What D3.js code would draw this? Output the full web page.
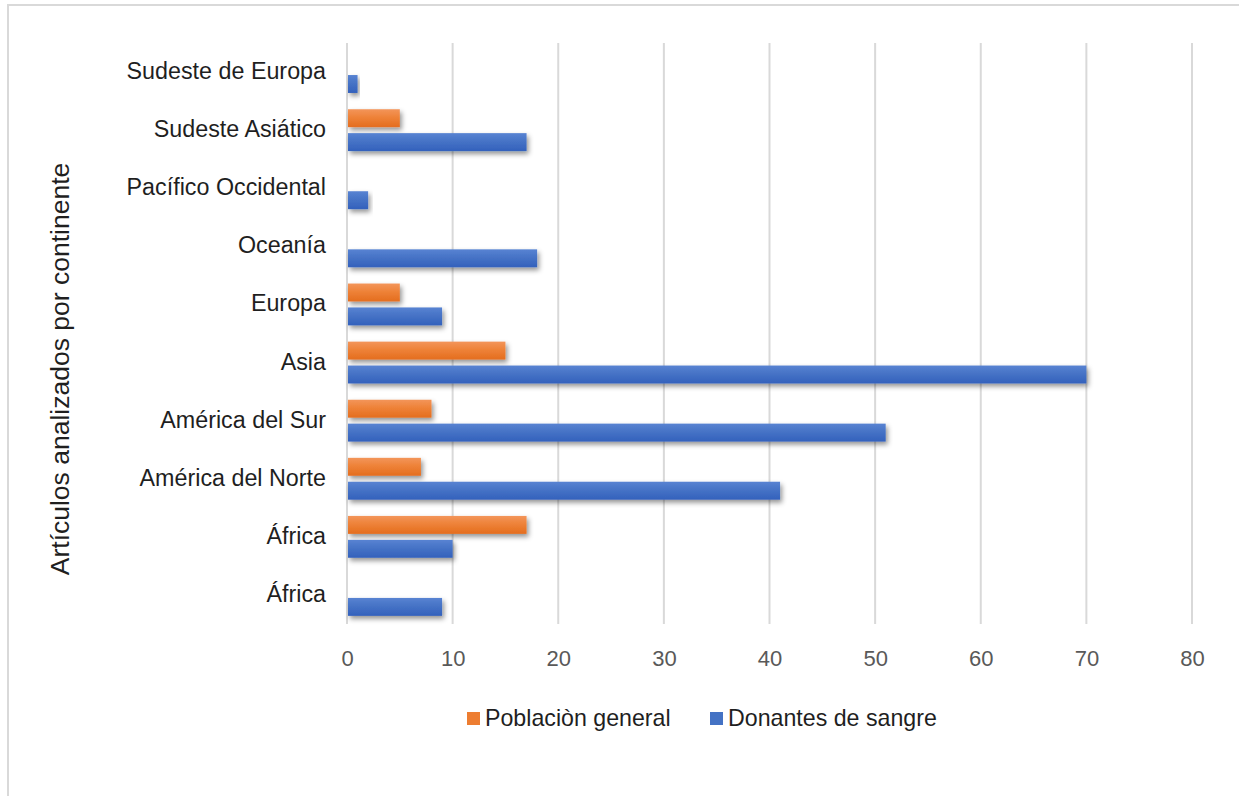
<!DOCTYPE html>
<html>
<head>
<meta charset="utf-8">
<script src="https://cdn.jsdelivr.net/npm/d3@7/dist/d3.min.js"></script>
<style>
  html, body { margin: 0; padding: 0; background: #fff; }
  svg { display: block; font-family: "Liberation Sans", Arial, sans-serif; }
</style>
</head>
<body>
<svg id="chart" width="1239" height="796"></svg>
<script>
// Regions, top to bottom
const categories = [
  "Sudeste de Europa",
  "Sudeste Asiático",
  "Pacífico Occidental",
  "Oceanía",
  "Europa",
  "Asia",
  "América del Sur",
  "América del Norte",
  "África ",
  "África"
];
// Number of articles per region
const poblacionGeneral = [0, 5, 0, 0, 5, 15, 8, 7, 17, 0];
const donantesSangre   = [1, 17, 2, 18, 9, 70, 51, 41, 10, 9];
const seriesNames = ["Poblaciòn general", "Donantes de sangre"];
const xTicks = [0, 10, 20, 30, 40, 50, 60, 70, 80];
const axisTitle = "Artículos analizados por continente";

const colors = { "Poblaciòn general": "#ED7D31", "Donantes de sangre": "#4472C4" };

const rows = categories.map((c, i) => ({
  key: i,
  label: c,
  values: [
    { series: seriesNames[0], value: poblacionGeneral[i] },
    { series: seriesNames[1], value: donantesSangre[i] }
  ]
}));

const svg = d3.select("#chart");

// outer frame
svg.append("rect")
  .attr("x", 8).attr("y", 5)
  .attr("width", 1260).attr("height", 820)
  .attr("fill", "#fff")
  .attr("stroke", "#d9d9d9").attr("stroke-width", 2);

const plot = { left: 347, right: 1192, top: 43, bottom: 624 };

const x = d3.scaleLinear().domain([0, 80]).range([plot.left, plot.right]);
const y = d3.scaleBand().domain(rows.map(r => r.key))
  .range([plot.top, plot.bottom])
  .paddingInner(0.28).paddingOuter(0.14);
const ySub = d3.scaleBand().domain(seriesNames)
  .range([0, y.bandwidth()]).paddingInner(0.25);

const defs = svg.append("defs");
const shadow = defs.append("filter").attr("id", "shadow")
  .attr("x", "-10%").attr("y", "-30%").attr("width", "130%").attr("height", "190%");
shadow.append("feDropShadow")
  .attr("dx", 2).attr("dy", 3).attr("stdDeviation", 2.4)
  .attr("flood-color", "#000").attr("flood-opacity", 0.42);

function grad(id, top, mid, bottom) {
  const g = defs.append("linearGradient").attr("id", id)
    .attr("x1", 0).attr("y1", 0).attr("x2", 0).attr("y2", 1);
  g.append("stop").attr("offset", "0%").attr("stop-color", top);
  g.append("stop").attr("offset", "45%").attr("stop-color", mid);
  g.append("stop").attr("offset", "100%").attr("stop-color", bottom);
}
grad("g0", "#F3955A", "#EE8238", "#E46D1E");
grad("g1", "#5883D2", "#4673C6", "#3361BC");
const gradId = { "Poblaciòn general": "url(#g0)", "Donantes de sangre": "url(#g1)" };

// vertical gridlines
svg.append("g")
  .selectAll("line").data(xTicks).join("line")
  .attr("x1", d => x(d)).attr("x2", d => x(d))
  .attr("y1", plot.top).attr("y2", plot.bottom)
  .attr("stroke", "#d9d9d9").attr("stroke-width", 2);

// x axis labels
const xAxis = d3.axisBottom(x).tickValues(xTicks).tickSize(0).tickPadding(0);
const gx = svg.append("g").attr("transform", `translate(0,${plot.bottom + 42})`).call(xAxis);
gx.select(".domain").remove();
gx.selectAll("text")
  .attr("dy", 0)
  .attr("font-size", 22)
  .attr("font-family", "'Liberation Sans', Arial, sans-serif")
  .attr("fill", "#595959");

// category labels
const yAxis = d3.axisLeft(y).tickSize(0).tickPadding(0).tickFormat(k => categories[k]);
const gy = svg.append("g").attr("transform", `translate(${plot.left - 21},0)`).call(yAxis);
gy.select(".domain").remove();
gy.selectAll("text")
  .attr("font-size", 23.3)
  .attr("font-family", "'Liberation Sans', Arial, sans-serif")
  .attr("fill", "#1f1f1f")
  .attr("dy", "0.3em");

// bars
const groups = svg.append("g").selectAll("g").data(rows).join("g")
  .attr("transform", d => `translate(0,${y(d.key)})`);
groups.selectAll("rect").data(d => d.values.filter(v => v.value > 0)).join("rect")
  .attr("x", x(0) + 1)
  .attr("y", d => ySub(d.series))
  .attr("width", d => x(d.value) - x(0) - 1)
  .attr("height", ySub.bandwidth())
  .attr("fill", d => gradId[d.series])
  .attr("filter", "url(#shadow)");

// axis title
svg.append("text")
  .attr("transform", `translate(69,${(160 + 578) / 2}) rotate(-90)`)
  .attr("text-anchor", "middle")
  .attr("font-size", 26.5)
  .attr("fill", "#1f1f1f")
  .text(axisTitle);

// legend
const legendItems = [
  { name: seriesNames[0], x: 467 },
  { name: seriesNames[1], x: 710 }
];
const lg = svg.append("g").selectAll("g").data(legendItems).join("g")
  .attr("transform", d => `translate(${d.x},712)`);
lg.append("rect").attr("width", 13).attr("height", 13)
  .attr("fill", d => colors[d.name]);
lg.append("text")
  .attr("x", 18).attr("y", 14)
  .attr("font-size", 23.2)
  .attr("fill", "#1f1f1f")
  .text(d => d.name);
</script>
</body>
</html>
